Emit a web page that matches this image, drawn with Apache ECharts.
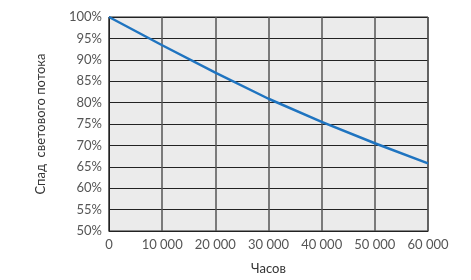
<!DOCTYPE html>
<html><head><meta charset="utf-8">
<script src="https://cdn.jsdelivr.net/npm/echarts@6/dist/echarts.min.js"></script>
<style>html,body{margin:0;padding:0;background:#fff}#c{width:471px;height:280px}</style>
</head><body><div id="c"></div>
<script>
const hours = [0, 10000, 20000, 30000, 40000, 50000, 60000];
const fluxPct = [100, 93.4, 87.0, 80.9, 75.5, 70.5, 65.8];
const xTitle = 'Часов';
const yTitle = 'Спад  светового потока';

const chart = echarts.init(document.getElementById('c'));
const font = 'Lato, "Open Sans", sans-serif';
chart.setOption({
  animation: false,
  grid: {left: 109, top: 17, width: 319, height: 214, show: true, backgroundColor: '#ebebeb', borderColor: '#222', borderWidth: 1},
  xAxis: {
    type: 'value', min: 0, max: 60000, interval: 10000,
    name: xTitle, nameLocation: 'middle', nameGap: 31,
    nameTextStyle: {color: '#333', fontSize: 13, fontFamily: font},
    axisLine: {show: true, lineStyle: {color: '#222', width: 1}},
    axisTick: {show: false},
    axisLabel: {color: '#555', fontSize: 13, fontFamily: font, margin: 7,
      formatter: v => v === 0 ? '0' : String(v).replace(/\B(?=(\d{3})+(?!\d))/g, ' ')},
    splitLine: {show: true, lineStyle: {color: '#555', width: 1.5}}
  },
  yAxis: {
    type: 'value', min: 50, max: 100, interval: 5,
    name: yTitle, nameLocation: 'middle', nameGap: 62,
    nameTextStyle: {color: '#333', fontSize: 13, fontFamily: font},
    axisLine: {show: true, lineStyle: {color: '#222', width: 1}},
    axisTick: {show: false},
    axisLabel: {color: '#555', fontSize: 13, fontFamily: font, margin: 7, formatter: v => v + '%'},
    splitLine: {show: true, lineStyle: {color: '#222', width: 1}}
  },
  series: [{
    type: 'line', data: hours.map((h, i) => [h, fluxPct[i]]),
    symbol: 'none', smooth: false,
    lineStyle: {color: '#1f74c0', width: 2.5}
  }]
});
</script></body></html>
